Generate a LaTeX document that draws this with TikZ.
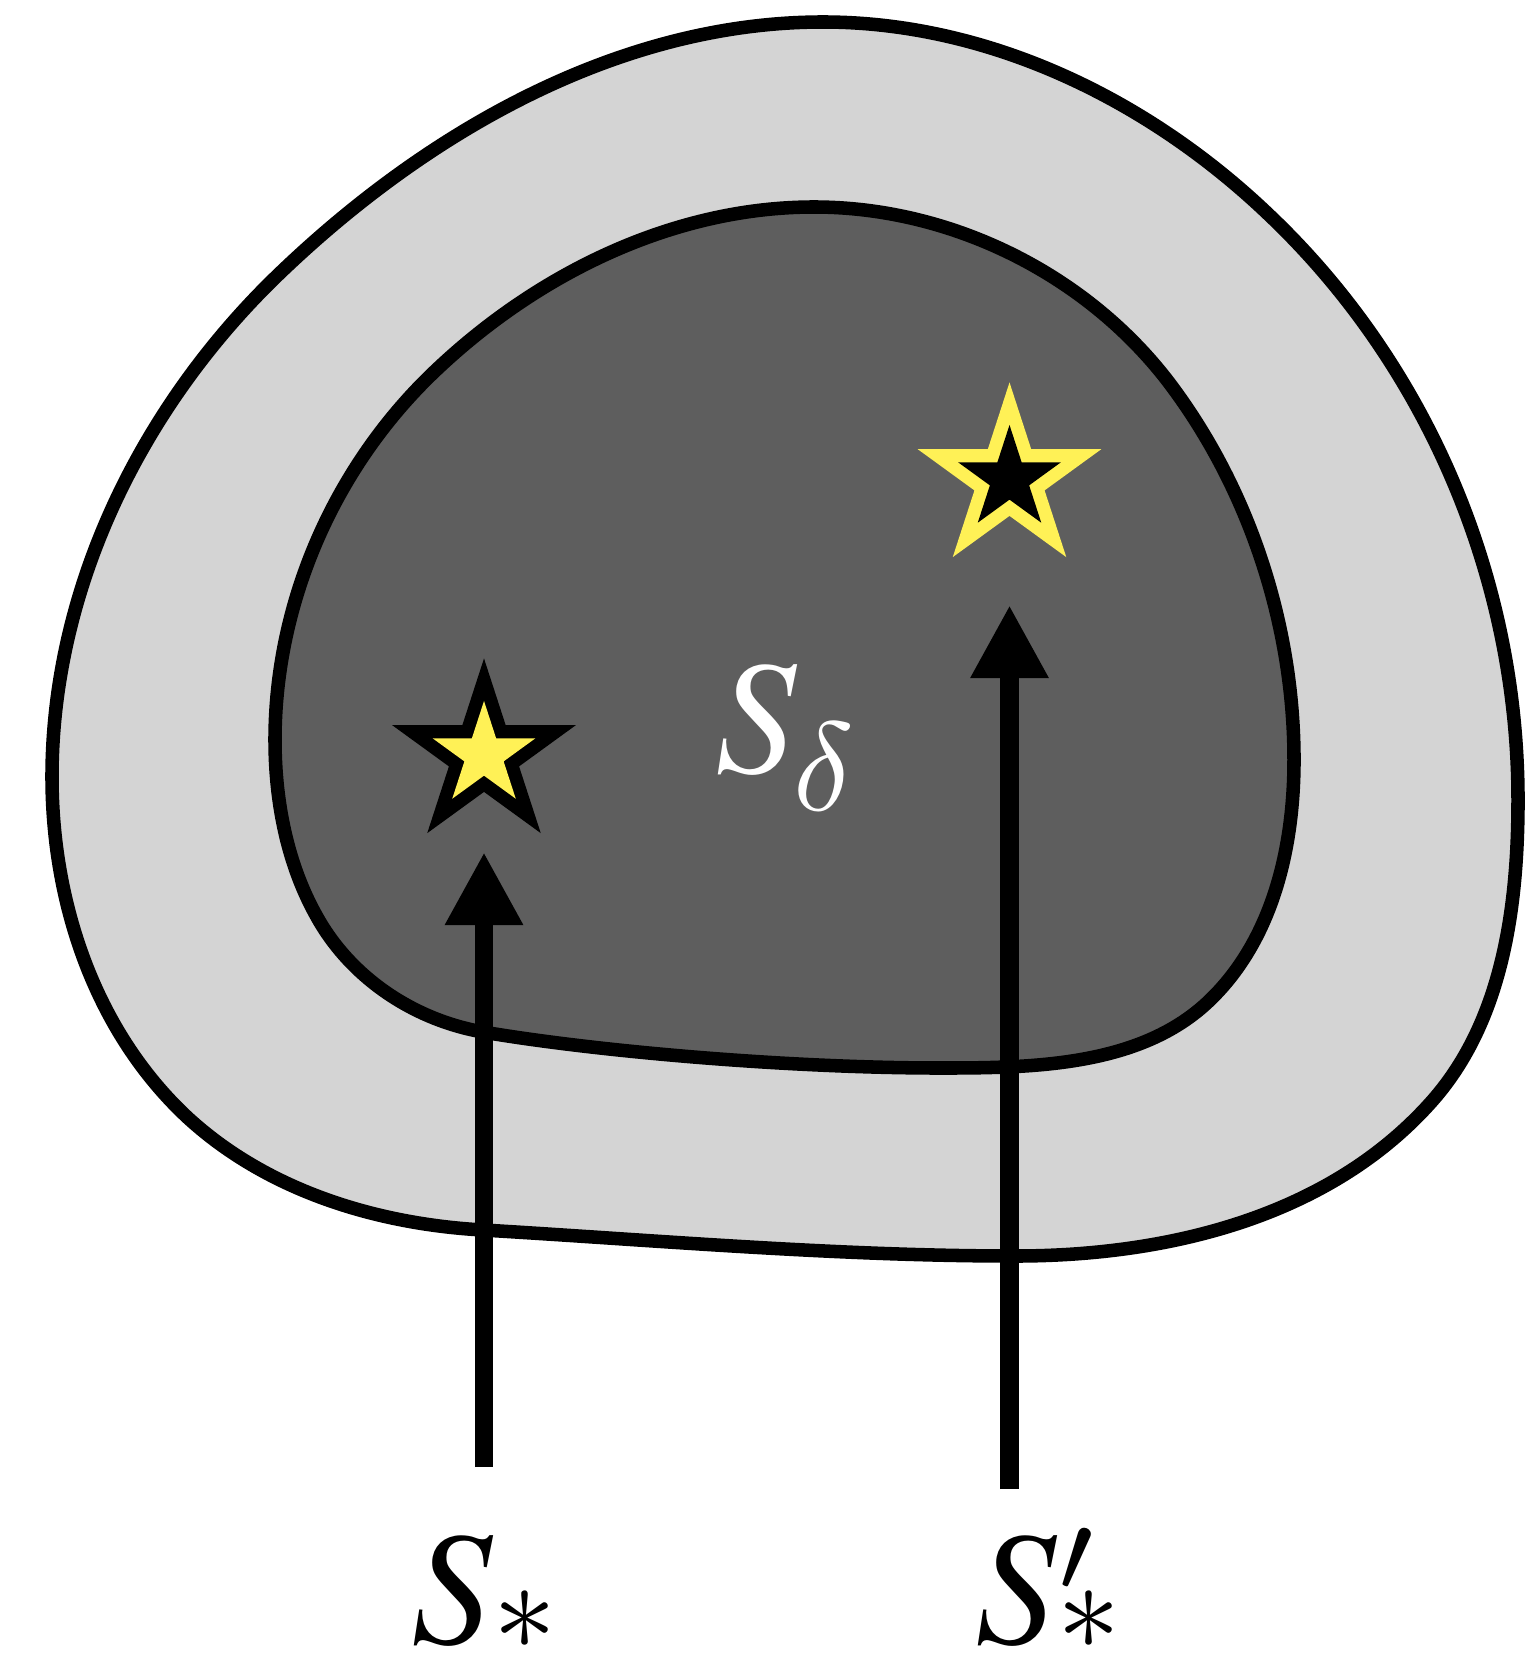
\documentclass[tikz,border=0pt]{standalone}
\usepackage{fontspec}
\newfontfamily\lsi{texgyretermes-italic.otf}
\usetikzlibrary{shapes.geometric,arrows.meta}
\definecolor{lightg}{RGB}{212,212,212}
\definecolor{darkg}{RGB}{94,94,94}
\definecolor{staryellow}{RGB}{255,241,86}
\newcommand\myast{\raisebox{-0.4pt}{\scalebox{0.78}{$\ast$}}}
\tikzset{
  blob/.style={draw=black, line width=3.85pt, line join=round},
  bigstar/.style={star, star points=5, star point ratio=2.618, inner sep=0pt, minimum size=1.93cm, draw=none},
  smallstar/.style={star, star points=5, star point ratio=2.618, inner sep=0pt, minimum size=1.08cm, draw=none},
  uparrow/.style={line width=5.3pt, -{Triangle[width=0.73cm,length=0.73cm]}},
  lbl/.style={inner sep=0pt, anchor=base, scale=4.6}
}
\begin{document}
\begin{tikzpicture}[x=0.01cm,y=-0.01cm]
\useasboundingbox (0,0) rectangle (1538,1658);
% outer region
\draw[blob, fill=lightg] (823,22)
  .. controls (988,22) and (1147,99) .. (1267,213)
  .. controls (1428,365) and (1518,580) .. (1518,800)
  .. controls (1518,906) and (1503,1020) .. (1433,1100)
  .. controls (1331,1216) and (1170,1256) .. (1015,1256)
  .. controls (835,1256) and (653,1240) .. (483,1230)
  .. controls (375,1224) and (266,1190) .. (187,1117)
  .. controls (95,1031) and (52,903) .. (52,777)
  .. controls (52,587) and (143,404) .. (280,273)
  .. controls (427,132) and (619,22) .. (823,22) -- cycle;
% inner region
\draw[blob, fill=darkg] (814,207)
  .. controls (950,207) and (1084,273) .. (1167,380)
  .. controls (1249,487) and (1294,625) .. (1294,760)
  .. controls (1294,847) and (1273,939) .. (1210,1000)
  .. controls (1142,1066) and (1035,1068) .. (941,1068)
  .. controls (791,1068) and (601,1052) .. (483,1032)
  .. controls (414,1020) and (351,978) .. (317,917)
  .. controls (287,864) and (275,801) .. (275,740)
  .. controls (275,603) and (334,468) .. (433,373)
  .. controls (535,275) and (672,207) .. (814,207) -- cycle;
% stars
\node[bigstar, fill=black] (st1o) at (484,755) {};
\node[smallstar, fill=staryellow] (st1i) at (484,755) {};
\node[bigstar, fill=staryellow] (st2o) at (1009.5,479) {};
\node[smallstar, fill=black] (st2i) at (1009.5,479) {};
% arrows
\coordinate (a1s) at (484,1467);
\coordinate (a1e) at (484,852);
\coordinate (a2s) at (1009.5,1489);
\coordinate (a2e) at (1009.5,605);
\draw[uparrow] (a1s) -- (a1e);
\draw[uparrow] (a2s) -- (a2e);
% labels
\node[lbl] (ls) at (484,1643) {{\lsi S}\kern0.1pt\myast};
\node[lbl] (lsp) at (1048,1643) {{\lsi S}\kern0.1pt\rlap{\raisebox{3.2pt}{$\scriptstyle\prime$}}\myast};
\node[lbl, text=white] (ld) at (785,772) {{\lsi S}\kern-0.2pt\raisebox{-2.4pt}{\scalebox{0.78}{$\delta$}}};
\end{tikzpicture}
\end{document}
